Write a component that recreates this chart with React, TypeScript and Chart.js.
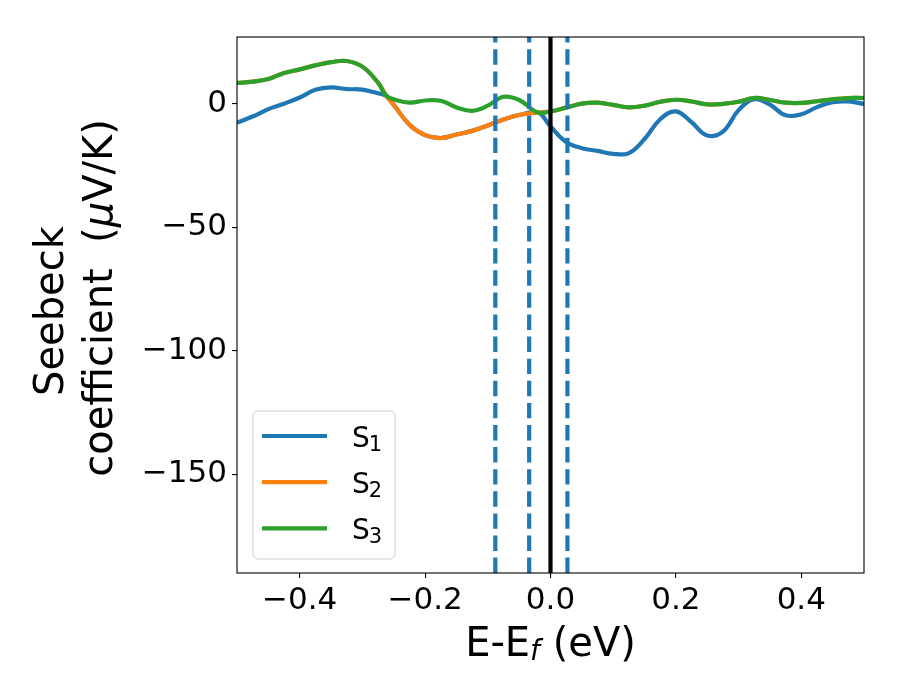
import { useEffect, useRef } from "react"
import { Chart, registerables } from "chart.js"

Chart.register(...registerables)

// energy grid (eV, relative to E_f)
const energy = [
  -0.5, -0.475, -0.45, -0.425, -0.4, -0.375, -0.35, -0.325, -0.3, -0.275, -0.262, -0.25, -0.225, -0.2,
  -0.175, -0.15, -0.125, -0.1, -0.075, -0.05, -0.02, 0, 0.025, 0.05, 0.075, 0.1, 0.125, 0.15, 0.175, 0.2,
  0.225, 0.25, 0.275, 0.3, 0.325, 0.35, 0.375, 0.4, 0.425, 0.45, 0.475, 0.5,
]

// Seebeck coefficients (µV/K)
const s1 = [
  -7.7, -5.2, -2.2, 0.0, 2.5, 5.6, 6.6, 5.9, 5.7, 4.2, 3.2, -0.5, -8.5, -12.7,
  -13.9, -12.5, -11.0, -8.8, -6.4, -4.6, -3.6, -9.2, -15.5, -18.0, -19.1, -20.3, -20.0, -14.3, -6.3, -3.1,
  -7.5, -12.9, -11.3, -2.6, 1.8, -0.4, -4.7, -4.3, -1.4, 0.6, 0.9, -0.1,
]
const s2 = [
  8.4, 8.9, 10.0, 12.4, 13.9, 15.5, 16.8, 17.3, 15.0, 8.5, 3.2, -0.5, -8.5, -12.7,
  -13.9, -12.5, -11.0, -8.8, -6.4, -4.6, -3.6, -3.1, -1.6, 0.0, 0.4, -0.5, -1.5, -0.8, 0.8, 1.6,
  0.9, -0.3, -0.1, 0.8, 2.3, 1.5, 0.4, 0.3, 1.0, 1.8, 2.3, 2.3,
]
const s3 = [
  8.4, 8.9, 10.0, 12.4, 13.9, 15.5, 16.8, 17.3, 15.0, 8.5, 3.2, 1.8, 0.4, 1.3,
  1.2, -1.5, -2.9, -0.8, 2.8, 1.5, -3.6, -3.1, -1.6, 0.0, 0.4, -0.5, -1.5, -0.8, 0.8, 1.6,
  0.9, -0.3, -0.1, 0.8, 2.3, 1.5, 0.4, 0.3, 1.0, 1.8, 2.3, 2.3,
]

const seriesLabels = ["S₁", "S₂", "S₃"]
const seriesColors = ["#1f77b4", "#ff7f0e", "#2ca02c"]

const dashedLines = [-0.088, -0.034, 0.027]
const fermiLine = 0

const xTicks = [-0.4, -0.2, 0, 0.2, 0.4]
const yTicks = [0, -50, -100, -150]
const xRange = [-0.5, 0.5]
const yRange = [-190, 27]

const FONT = '"DejaVu Sans"'
const font = (size: number, italic = false) => `${italic ? "italic " : ""}${size}px ${FONT}`

const fmtTick = (v: number, digits: number) => (v < 0 ? "\u2212" : "") + Math.abs(v).toFixed(digits)

const subDigits: Record<string, string> = { "₁": "1", "₂": "2", "₃": "3" }

// frame around the plot area (all four spines)
const framePlugin = {
  id: "frame",
  afterDraw(chart: any) {
    const { ctx, chartArea } = chart
    ctx.save()
    ctx.strokeStyle = "#000"
    ctx.lineWidth = 1.1
    ctx.strokeRect(chartArea.left, chartArea.top, chartArea.right - chartArea.left, chartArea.bottom - chartArea.top)
    ctx.restore()
  },
}

// legend inside the axes, lower left
const legendPlugin = {
  id: "insideLegend",
  afterDraw(chart: any) {
    const { ctx, chartArea } = chart
    const w = 142
    const h = 148
    const x = chartArea.left + 16
    const y = chartArea.bottom - 14 - h
    ctx.save()
    ctx.beginPath()
    ctx.roundRect(x, y, w, h, 5)
    ctx.fillStyle = "rgba(255,255,255,0.8)"
    ctx.fill()
    ctx.strokeStyle = "#cccccc"
    ctx.lineWidth = 1
    ctx.stroke()
    seriesLabels.forEach((label, i) => {
      const ly = y + 25 + i * 46.2
      ctx.beginPath()
      ctx.moveTo(x + 9, ly)
      ctx.lineTo(x + 74, ly)
      ctx.strokeStyle = seriesColors[i]
      ctx.lineWidth = 4.2
      ctx.stroke()
      ctx.fillStyle = "#000"
      ctx.textAlign = "left"
      ctx.textBaseline = "alphabetic"
      const base = label.slice(0, 1)
      const sub = subDigits[label.slice(1)] ?? ""
      ctx.font = font(28)
      ctx.fillText(base, x + 99, ly + 11)
      const bw = ctx.measureText(base).width
      ctx.font = font(21)
      ctx.fillText(sub, x + 99 + bw - 1, ly + 15)
    })
    ctx.restore()
  },
}

// axis titles with italic / subscript parts
const titlePlugin = {
  id: "axisTitles",
  afterDraw(chart: any) {
    const { ctx, chartArea } = chart
    ctx.save()
    ctx.fillStyle = "#000"
    ctx.textBaseline = "alphabetic"
    ctx.textAlign = "left"

    // x title: E-E_f (eV)
    const parts: [string, string, number][] = [
      ["E-E", font(40), 0],
      ["f", font(28, true), 4],
      [" (eV)", font(40), 0],
    ]
    let total = 0
    parts.forEach(([t, f]) => {
      ctx.font = f
      total += ctx.measureText(t).width
    })
    let cx = (chartArea.left + chartArea.right) / 2 - total / 2
    const baseY = 656
    parts.forEach(([t, f, dy]) => {
      ctx.font = f
      ctx.fillText(t, cx, baseY + dy)
      cx += ctx.measureText(t).width
    })

    // y title, two lines, rotated
    ctx.font = font(40)
    ctx.save()
    ctx.translate(63, 311)
    ctx.rotate(-Math.PI / 2)
    ctx.textAlign = "center"
    ctx.fillText("Seebeck", 0, 0)
    ctx.restore()

    const line2: [string, string][] = [
      ["coefficient  (", font(40)],
      ["μ", font(40, true)],
      ["V/K)", font(40)],
    ]
    let w2 = 0
    line2.forEach(([t, f]) => {
      ctx.font = f
      w2 += ctx.measureText(t).width
    })
    ctx.save()
    ctx.translate(112, 298)
    ctx.rotate(-Math.PI / 2)
    let px = -w2 / 2
    line2.forEach(([t, f]) => {
      ctx.font = f
      ctx.fillText(t, px, 0)
      px += ctx.measureText(t).width
    })
    ctx.restore()
    ctx.restore()
  },
}

export default function App() {
  const chartRef = useRef<HTMLCanvasElement>(null)

  useEffect(() => {
    if (!chartRef.current) return

    const curves = [s1, s2, s3].map((vals, i) => ({
      label: seriesLabels[i],
      data: energy.map((e, j) => ({ x: e, y: vals[j] })),
      borderColor: seriesColors[i],
      borderWidth: 4.2,
      pointRadius: 0,
      tension: 0.4,
      clip: 0,
      order: 3 - i,
    }))

    const dashed = dashedLines.map((v) => ({
      label: "",
      data: [
        { x: v, y: yRange[0] },
        { x: v, y: yRange[1] },
      ],
      borderColor: "#1f77b4",
      borderWidth: 4.2,
      borderDash: [15.4, 6.7],
      pointRadius: 0,
      clip: 0,
      order: 0,
    }))

    const fermi = {
      label: "",
      data: [
        { x: fermiLine, y: yRange[0] },
        { x: fermiLine, y: yRange[1] },
      ],
      borderColor: "#000000",
      borderWidth: 4.2,
      pointRadius: 0,
      clip: 0,
      order: 0,
    }

    const tickFont = { family: "DejaVu Sans", size: 31 }

    const chart = new Chart(chartRef.current, {
      type: "line",
      data: { datasets: [...curves, ...dashed, fermi] },
      options: {
        animation: false,
        responsive: false,
        devicePixelRatio: 1,
        layout: { padding: { left: 0, top: 37, right: 36, bottom: 0 } },
        plugins: {
          legend: { display: false },
          tooltip: { enabled: false },
        },
        scales: {
          x: {
            type: "linear",
            min: xRange[0],
            max: xRange[1],
            afterBuildTicks: (axis: any) => {
              axis.ticks = xTicks.map((v) => ({ value: v }))
            },
            afterFit: (axis: any) => {
              axis.height = 127
            },
            ticks: {
              font: tickFont,
              color: "#000",
              padding: 4,
              maxRotation: 0,
              autoSkip: false,
              callback: (v: any) => fmtTick(Number(v), 1),
            },
            grid: { drawOnChartArea: false, drawTicks: true, tickLength: 5, color: "#000", lineWidth: 1.1 },
            border: { display: false },
          },
          y: {
            type: "linear",
            min: yRange[0],
            max: yRange[1],
            afterBuildTicks: (axis: any) => {
              axis.ticks = yTicks.map((v) => ({ value: v }))
            },
            afterFit: (axis: any) => {
              axis.width = 237
            },
            ticks: {
              font: tickFont,
              color: "#000",
              padding: 5,
              autoSkip: false,
              callback: (v: any) => fmtTick(Number(v), 0),
            },
            grid: { drawOnChartArea: false, drawTicks: true, tickLength: 5, color: "#000", lineWidth: 1.1 },
            border: { display: false },
          },
        },
      },
      plugins: [framePlugin, legendPlugin, titlePlugin],
    })

    return () => {
      chart.destroy()
    }
  }, [])

  return (
    <div style={{ position: "absolute", left: 0, top: 0, width: 900, height: 700, background: "#fff" }}>
      <canvas ref={chartRef} width={900} height={700} style={{ display: "block" }} />
    </div>
  )
}
